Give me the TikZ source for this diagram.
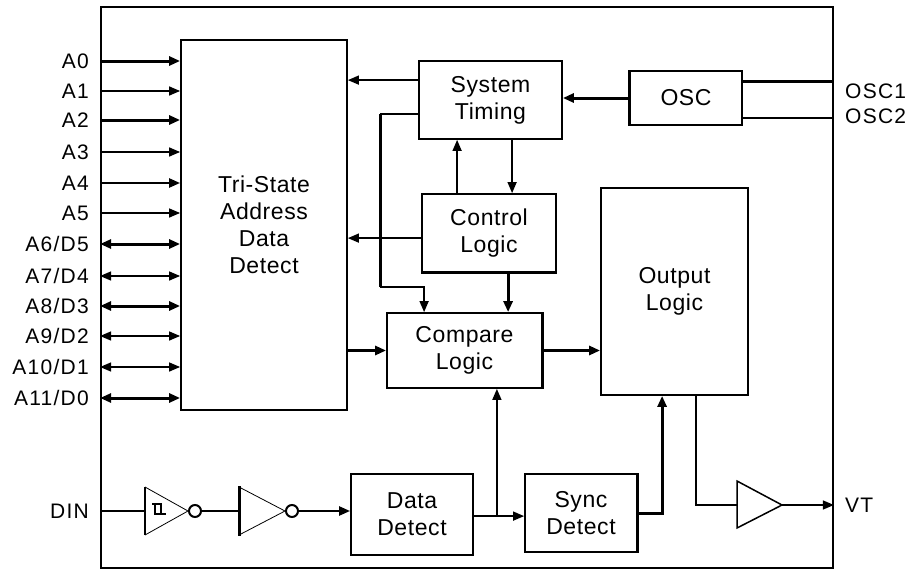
\documentclass[tikz,border=0pt]{standalone}
\usepackage{fontspec}
\setmainfont{Liberation Sans}
\newfontfamily\pinfont[LetterSpace=6]{Liberation Sans}
\newfontfamily\blkfont[LetterSpace=2.5]{Liberation Sans}
\usetikzlibrary{arrows.meta,calc}
\begin{document}
\begin{tikzpicture}[x=1pt,y=-1pt,
  ln/.style={line width=1.5pt},
  lnk/.style={line width=3pt},
  lnm/.style={line width=2.4pt},
  tip/.style={-{Triangle[length=11pt,width=9pt]}},
  dtip/.style={{Triangle[length=11pt,width=9pt]}-{Triangle[length=11pt,width=9pt]}},
  blk/.style={draw, line width=1.8pt, align=center, inner sep=0pt, font=\blkfont\fontsize{23}{27}\selectfont},
  pinl/.style={font=\pinfont\fontsize{21}{25}\selectfont, inner sep=0pt, text height=15pt, text depth=0pt}]
\useasboundingbox (0,0) rectangle (911,570);
\node[draw, line width=1.8pt, minimum width=732pt, minimum height=561pt, inner sep=0pt] (chip) at (467,287.5) {};
% blocks
\node[blk, minimum width=166pt, minimum height=370pt] (tri) at (264,225) {Tri-State\\Address\\Data\\Detect};
\node[blk, minimum width=143pt, minimum height=78pt] (st) at (490.5,100) {System\\Timing};
\node[blk, minimum width=112pt, minimum height=54pt] (osc) at (686,98) {OSC};
\node[blk, minimum width=134pt, minimum height=78pt] (ctl) at (489,233) {Control\\Logic};
\node[blk, minimum width=155pt, minimum height=75pt] (cmp) at (464.5,350.5) {Compare\\Logic};
\node[blk, minimum width=147pt, minimum height=207pt] (out) at (674.5,291.5) {Output\\Logic};
\node[blk, minimum width=122pt, minimum height=81pt] (dd) at (412,514.5) {Data\\Detect};
\node[blk, minimum width=112pt, minimum height=78pt] (sd) at (581,513) {Sync\\Detect};
% thick edges
\draw[lnk] (osc.north west) -- (osc.south west);
\draw[lnk] (ctl.south west) -- (ctl.south east);
\draw[lnk] (cmp.north east) -- (cmp.south east);
\draw[lnk] (sd.north east) -- (sd.south east);
% address pins
\foreach \lab/\yy/\st/\ar [count=\n] in {A0/61/lnk/tip, A1/91/ln/tip, A2/120/lnk/tip, A3/152/ln/tip, A4/183/lnm/tip, A5/213/ln/tip, {A6/D5}/244/lnk/dtip, {A7/D4}/276/ln/dtip, {A8/D3}/306/lnk/dtip, {A9/D2}/336/ln/dtip, {A10/D1}/367/ln/dtip, {A11/D0}/398/lnk/dtip} {
  \node[pinl, anchor=east] (p\n) at (89,\yy) {\lab};
  \draw[\st,\ar] (chip.west |- p\n) -- (tri.west |- p\n);
}
% oscillator pins
\node[pinl, anchor=west] (osc1) at (845,91) {OSC1};
\node[pinl, anchor=west] (osc2) at (845,116) {OSC2};
\coordinate (oe1) at ($(osc.north east)+(0,11)$);
\coordinate (oe2) at ($(osc.south east)+(0,-8)$);
\draw[lnk] (oe1) -- (chip.east |- oe1);
\draw[ln] (oe2) -- (chip.east |- oe2);
\draw[lnk,tip] (osc.west) -- (st.east |- osc.west);
% system timing outputs
\coordinate (stw1) at ($(st.north west)+(0,20)$);
\coordinate (stw2) at ($(st.north west)+(0,54)$);
\coordinate (k1) at (380,287);
\coordinate (cmpin1) at ($(cmp.north west)+(38,0)$);
\draw[ln,tip] (stw1) -- (tri.east |- stw1);
\draw[ln] (stw2) -- (k1 |- stw2);
\draw[lnk] (k1 |- stw2) -- (k1);
\draw[ln,tip] (k1) -| (cmpin1);
% system timing <-> control logic
\coordinate (c1) at ($(ctl.north west)+(36,0)$);
\coordinate (s1) at ($(st.south west)+(94,0)$);
\draw[ln,tip] (c1) -- (c1 |- st.south);
\draw[ln,tip] (s1) -- (s1 |- ctl.north);
\coordinate (c2) at ($(ctl.north west)+(0,45)$);
\draw[ln,tip] (c2) -- (tri.east |- c2);
\coordinate (c3) at ($(ctl.south west)+(87,0)$);
\draw[lnk,tip] (c3) -- (c3 |- cmp.north);
% compare
\draw[lnk,tip] (tri.east |- cmp.west) -- (cmp.west);
\draw[lnk,tip] (cmp.east) -- (out.west |- cmp.east);
% data / sync detect
\coordinate (d1) at ($(dd.north east)+(0,43)$);
\draw[ln,tip] (d1) -- (sd.west |- d1);
\coordinate (j) at ($(d1)+(23,0)$);
\draw[ln,tip] (j) -- (j |- cmp.south);
\coordinate (o1) at ($(out.south west)+(62,0)$);
\draw[lnk,tip] (sd.east) -| (o1);
% output buffer
\coordinate (o2) at ($(out.south west)+(96,0)$);
\coordinate (bufin) at (737,505);
\coordinate (bufout) at (782,505);
\draw[ln] (o2) |- (bufin);
\draw[ln] ($(bufin)+(0,-24)$) -- (bufout) -- ($(bufin)+(0,23)$) -- cycle;
\node[pinl, anchor=west] (vt) at (845,505) {VT};
\draw[ln,tip] (bufout) -- (chip.east |- bufout);
% DIN input chain
\node[pinl, anchor=east] (din) at (89,511) {DIN};
\coordinate (inv1in) at (145,511);
\coordinate (inv1out) at (188,511);
\coordinate (inv2in) at (239,511);
\coordinate (inv2out) at (285,511);
\draw[lnm] (chip.west |- din) -- (inv1in);
\draw[line width=0.8pt] ($(inv1in)+(0,-24)$) -- (inv1out) -- ($(inv1in)+(0,24)$);
\draw[line width=1.6pt] ($(inv1in)+(0,-24)$) -- ($(inv1in)+(0,24)$);
\draw[line width=2.4pt] (152,504) -- (161,504) -- (161,514) -- (166,514);
\draw[line width=2.4pt] (155,504) -- (155,514) -- (161,514);
\draw[line width=2pt] ($(inv1out)+(7,0)$) circle (6pt);
\draw[lnm] ($(inv1out)+(13,0)$) -- (inv2in);
\draw[line width=0.8pt] ($(inv2in)+(0,-24)$) -- (inv2out) -- ($(inv2in)+(0,24)$);
\draw[lnk] ($(inv2in)+(0,-25)$) -- ($(inv2in)+(0,25)$);
\draw[line width=2pt] ($(inv2out)+(7,0)$) circle (6pt);
\draw[lnm,tip] ($(inv2out)+(13,0)$) -- (dd.west |- din);
\end{tikzpicture}
\end{document}
